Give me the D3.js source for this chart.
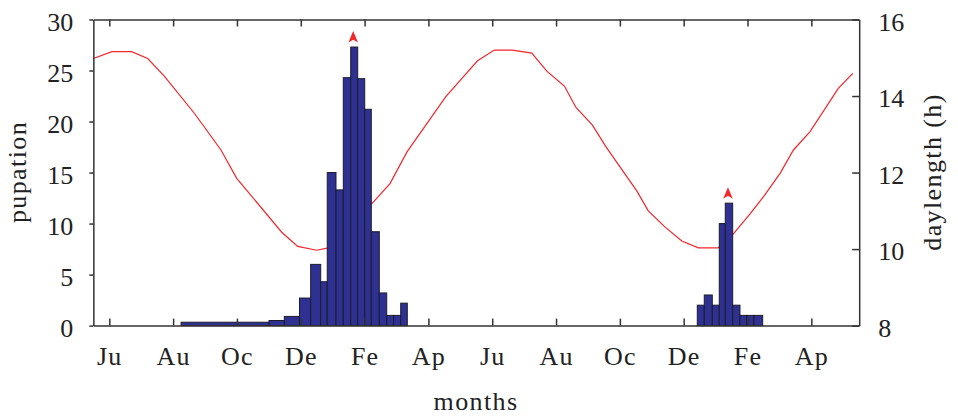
<!DOCTYPE html>
<html>
<head>
<meta charset="utf-8">
<script src="https://cdn.jsdelivr.net/npm/d3@7"></script>
<style>
  body { margin: 0; background: #fff; }
  svg { display: block; }
  .ejes path, .ejes line { stroke: #333; stroke-width: 1.5; }
  .ejes text { font-family: "Liberation Serif", serif; font-size: 26px; fill: #222; }
  .titulo { font-family: "Liberation Serif", serif; font-size: 26px; fill: #222; letter-spacing: 1.4px; }
</style>
</head>
<body>
<div id="graf"></div>
<script>
// Data (x in months from the start of June of the first year)
const monthTicks = [0.5, 2.5, 4.5, 6.5, 8.5, 10.5, 12.5, 14.5, 16.5, 18.5, 20.5, 22.5]
const monthLabels = ["Ju", "Au", "Oc", "De", "Fe", "Ap", "Ju", "Au", "Oc", "De", "Fe", "Ap"]

const binStart = [2.75, 5.505, 5.984, 6.46, 6.81, 7.125, 7.33, 7.604, 7.833, 8.065, 8.284, 8.504, 8.71, 8.961, 9.193, 9.412, 9.632,
  18.926, 19.145, 19.396, 19.615, 19.803, 20.035, 20.264, 20.483, 20.703]
const binEnd = [5.505, 5.984, 6.46, 6.81, 7.125, 7.33, 7.604, 7.833, 8.065, 8.284, 8.504, 8.71, 8.961, 9.193, 9.412, 9.632, 9.838,
  19.145, 19.396, 19.615, 19.803, 20.035, 20.264, 20.483, 20.703, 20.975]
const pupation = [0.33, 0.5, 0.9, 2.7, 6.0, 4.3, 15.0, 13.3, 24.3, 27.3, 24.2, 21.2, 9.2, 3.2, 1.0, 1.0, 2.2,
  2, 3, 2, 10, 12, 2, 1, 1, 1]
const season = [1, 1, 1, 1, 1, 1, 1, 1, 1, 1, 1, 1, 1, 1, 1, 1, 1, 2, 2, 2, 2, 2, 2, 2, 2, 2]

const dayMonths = [0, 0.584, 1.202, 1.703, 2.223, 3.164, 4.0, 4.492, 5.903, 6.404, 7.0, 7.363, 8.043, 8.723, 9.296, 9.829,
  11.04, 11.53, 12.04, 12.565, 13.13, 13.74, 14.21, 14.76, 15.125, 15.64, 16.065, 17.03, 17.39, 17.91, 18.44, 18.96,
  19.575, 20.05, 20.58, 21.02, 21.52, 21.94, 22.46, 23.345, 23.8]
const dayLength = [14.98, 15.16, 15.16, 14.98, 14.52, 13.55, 12.59, 11.85, 10.44, 10.07, 9.97, 10.03, 10.55, 11.18, 11.71, 12.54,
  13.98, 14.44, 14.92, 15.2, 15.2, 15.12, 14.65, 14.26, 13.7, 13.24, 12.67, 11.52, 11.0, 10.58, 10.21, 10.03,
  10.03, 10.39, 10.92, 11.39, 11.98, 12.59, 13.07, 14.2, 14.59]

const pupTicks = [0, 5, 10, 15, 20, 25, 30]
const dayTicks = [8, 10, 12, 14, 16]

const anchoTotal = 958
const altoTotal = 416
const margins = { left: 93.35, top: 19.5, right: 98.8, bottom: 90.4 }
const ancho = anchoTotal - margins.left - margins.right
const alto = altoTotal - margins.top - margins.bottom

const svg = d3.select("#graf")
  .append("svg")
  .attr("width", anchoTotal)
  .attr("height", altoTotal)

const g = svg.append("g")
  .attr("transform", `translate(${margins.left}, ${margins.top})`)

// Escaladores
const x = d3.scaleLinear().domain([0, 24]).range([0, ancho])
const y = d3.scaleLinear().domain([0, 30]).range([alto, 0])
const y2 = d3.scaleLinear().domain([8, 16]).range([alto, 0])

// Daylength line (behind bars)
const linea = d3.line()
  .x((d, i) => x(dayMonths[i]))
  .y((d) => y2(d))

g.append("path")
  .datum(dayLength)
  .attr("d", linea)
  .attr("fill", "none")
  .attr("stroke", "#f2262b")
  .attr("stroke-width", 1.2)

// Bars
g.append("g")
  .selectAll("rect")
  .data(pupation)
  .join("rect")
  .attr("x", (d, i) => x(binStart[i]))
  .attr("width", (d, i) => x(binEnd[i]) - x(binStart[i]))
  .attr("y", (d) => y(d))
  .attr("height", (d) => alto - y(d))
  .attr("fill", "#2e3192")
  .attr("stroke", "#1c1c2a")
  .attr("stroke-width", 1)

// Peak arrows
const picos = [1, 2].map((s) => {
  const idx = d3.range(pupation.length).filter((i) => season[i] === s)
  return idx[d3.maxIndex(idx, (i) => pupation[i])]
})
g.append("g")
  .selectAll("path")
  .data(picos)
  .join("path")
  .attr("transform", (i) => `translate(${(x(binStart[i]) + x(binEnd[i])) / 2 - 1}, ${y(pupation[i]) - 4.5})`)
  .attr("d", "M0,-11.5 L4.8,0 L0,-2.8 L-4.8,0 Z")
  .attr("fill", "#f2262b")

// Ejes
const xAxis = d3.axisBottom(x).tickValues(monthTicks).tickSize(-7).tickSizeOuter(0)
  .tickFormat((d, i) => monthLabels[i])
const xg = g.append("g").attr("class", "ejes")
  .attr("transform", `translate(0, ${alto})`)
  .call(xAxis)
xg.selectAll("text").attr("y", 39.5).attr("dy", null).style("letter-spacing", "1.2px")
xg.select(".domain").attr("stroke-width", 2)

const xTop = d3.axisTop(x).tickValues(monthTicks).tickSize(-7).tickSizeOuter(0).tickFormat("")
g.append("g").attr("class", "ejes").call(xTop)

const yAxis = d3.axisLeft(y).tickValues(pupTicks).tickSize(4).tickSizeOuter(0).tickPadding(16)
const yg = g.append("g").attr("class", "ejes").call(yAxis)
yg.selectAll("text").attr("dy", null).attr("y", 10.7)

const yAxis2 = d3.axisRight(y2).tickValues(dayTicks).tickSize(-7).tickSizeOuter(0).tickPadding(19)
const yg2 = g.append("g").attr("class", "ejes")
  .attr("transform", `translate(${ancho}, 0)`)
  .call(yAxis2)
yg2.selectAll("text").attr("dy", null).attr("y", 10.7)

// Titles
svg.append("text").attr("class", "titulo")
  .attr("x", 476).attr("y", 410)
  .attr("text-anchor", "middle")
  .text("months")

svg.append("text").attr("class", "titulo")
  .attr("transform", "translate(26, 172) rotate(-90)")
  .attr("text-anchor", "middle")
  .text("pupation")

svg.append("text").attr("class", "titulo")
  .attr("transform", "translate(941, 172) rotate(-90)")
  .attr("text-anchor", "middle")
  .text("daylength (h)")
</script>
</body>
</html>
